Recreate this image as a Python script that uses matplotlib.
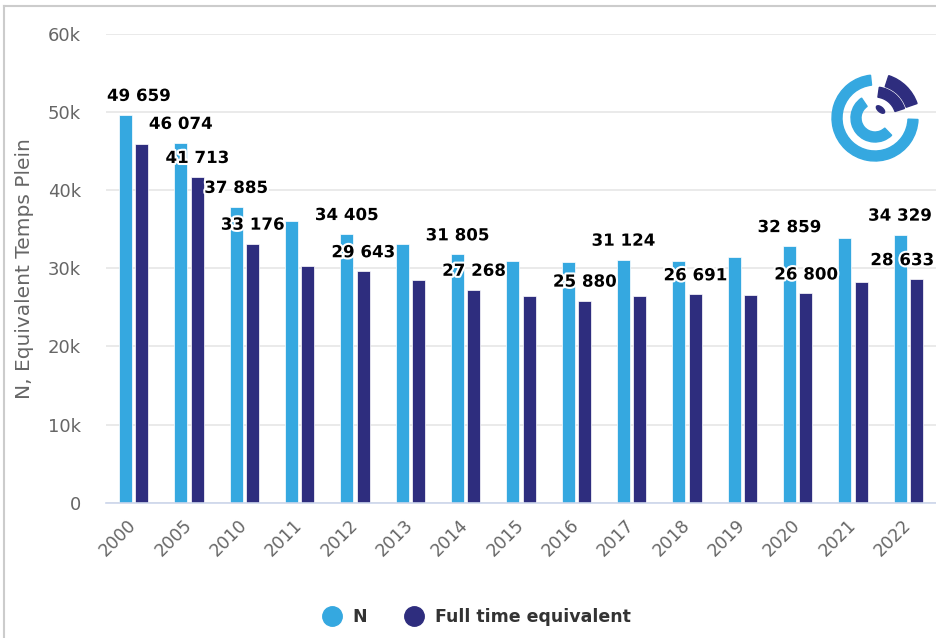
import numpy as np
import matplotlib
matplotlib.use("Agg")
import matplotlib.pyplot as plt
import matplotlib.patheffects as pe
from matplotlib.lines import Line2D
from matplotlib.patches import Wedge, Ellipse

# data
years = ["2000", "2005", "2010", "2011", "2012", "2013", "2014", "2015",
         "2016", "2017", "2018", "2019", "2020", "2021", "2022"]
n_vals = [49659, 46074, 37885, 36100, 34405, 33100, 31805, 31000,
          30800, 31124, 31000, 31500, 32859, 33850, 34329]
fte_vals = [45900, 41713, 33176, 30300, 29643, 28450, 27268, 26400,
            25880, 26400, 26691, 26600, 26800, 28200, 28633]
# which data labels the original chart kept visible
show_n = [1, 1, 1, 0, 1, 0, 1, 0, 0, 1, 0, 0, 1, 0, 1]
show_fte = [0, 1, 1, 0, 1, 0, 1, 0, 1, 0, 1, 0, 1, 0, 1]
y_ticks = [0, 10000, 20000, 30000, 40000, 50000, 60000]
y_ticklabels = ["0", "10k", "20k", "30k", "40k", "50k", "60k"]
series_names = ["N", "Full time equivalent"]

light = "#35a8e0"
navy = "#2e2d7e"

plt.rcParams['font.family'] = ['DejaVu Sans']

fig = plt.figure(figsize=(9.36, 6.38), dpi=100)
ax = fig.add_axes([106 / 936, 1 - 502.7 / 638, 830 / 936, (502.7 - 34) / 638])

x = np.arange(len(years))
bw = 0.235
off = 0.15
bars_n = ax.bar(x - off, n_vals, bw, color=light, edgecolor="white", linewidth=0.5, zorder=2)
bars_f = ax.bar(x + off, fte_vals, bw, color=navy, edgecolor="white", linewidth=0.5, zorder=2)

ax.set_xlim(-0.5, len(years) - 0.5)
ax.set_ylim(0, 60000)
ax.set_yticks(y_ticks)
ax.set_yticklabels(y_ticklabels)
ax.set_xticks(x)
ax.set_xticklabels(years, rotation=45, ha="right", va="center", rotation_mode="anchor")
ax.tick_params(axis="y", length=0, pad=18, labelsize=13, labelcolor="#666666")
ax.tick_params(axis="x", length=0, pad=14, labelsize=12.5, labelcolor="#666666")
ax.grid(axis="y", color="#e6e6e6", linewidth=1.2, zorder=0)
ax.set_axisbelow(True)
for s in ["top", "right", "left"]:
    ax.spines[s].set_visible(False)
ax.spines["bottom"].set_color("#ccd6eb")
ax.spines["bottom"].set_linewidth(1.2)
ax.set_ylabel("N, Equivalent Temps Plein", fontsize=14.5, color="#666666")
ax.yaxis.set_label_coords(-0.087, 0.5)


def fmt(v):
    return f"{v:,}".replace(",", " ")


anns = []
for bars, vals, show in [(bars_n, n_vals, show_n), (bars_f, fte_vals, show_fte)]:
    for b, v, s in zip(bars, vals, show):
        if not s:
            continue
        a = ax.annotate(fmt(v), (b.get_x() + b.get_width() / 2, v),
                        xytext=(0, 10), textcoords="offset points",
                        ha="center", va="baseline", fontsize=12, fontweight="bold",
                        color="black", zorder=4,
                        path_effects=[pe.withStroke(linewidth=3, foreground="white")])
        anns.append(a)

# keep labels inside the plot area, like the original
fig.canvas.draw()
r = fig.canvas.get_renderer()
abox = ax.get_window_extent(r)
for a in anns:
    bb = a.get_window_extent(r)
    shift = 0
    if bb.x0 < abox.x0 + 1:
        shift = abox.x0 + 1 - bb.x0
    elif bb.x1 > abox.x1 - 2:
        shift = abox.x1 - 2 - bb.x1
    if shift:
        a.xyann = (shift * 72 / fig.dpi, 10)

# legend
handles = [Line2D([], [], marker="o", linestyle="", markersize=14, color=c)
           for c in (light, navy)]
fig.legend(handles, series_names, loc="center", bbox_to_anchor=(477 / 936, 1 - 617 / 638),
           ncol=2, frameon=False, handlelength=1.0, handletextpad=0.7, columnspacing=2.2,
           prop={"size": 12.5, "weight": "bold"}, labelcolor="#333333")

# screenshot frame
fig.add_artist(Line2D([4 / 936, 1], [1 - 6 / 638, 1 - 6 / 638], color="#cccccc", linewidth=1.5))
fig.add_artist(Line2D([4 / 936, 4 / 936], [0, 1 - 6 / 638], color="#cccccc", linewidth=1.5))

# logo
lg = fig.add_axes([825 / 936, 1 - 168 / 638, 100 / 936, 100 / 638])
lg.set_xlim(-50, 50)
lg.set_ylim(-50, 50)
lg.axis("off")
lg.add_patch(Wedge((0, 0), 43, 96, 358, width=10, color=light))
lg.add_patch(Wedge((0, 0), 24, 124, 314, width=10, color=light))
lg.add_patch(Wedge((0, 0), 44.5, 19, 72, width=11.5, color=navy))
lg.add_patch(Wedge((0, 0), 31, 18, 82, width=10, color=navy))
lg.add_patch(Ellipse((5.5, 8.5), 10, 5, angle=-40, color=navy))

fig.savefig("out.png", dpi=100)
